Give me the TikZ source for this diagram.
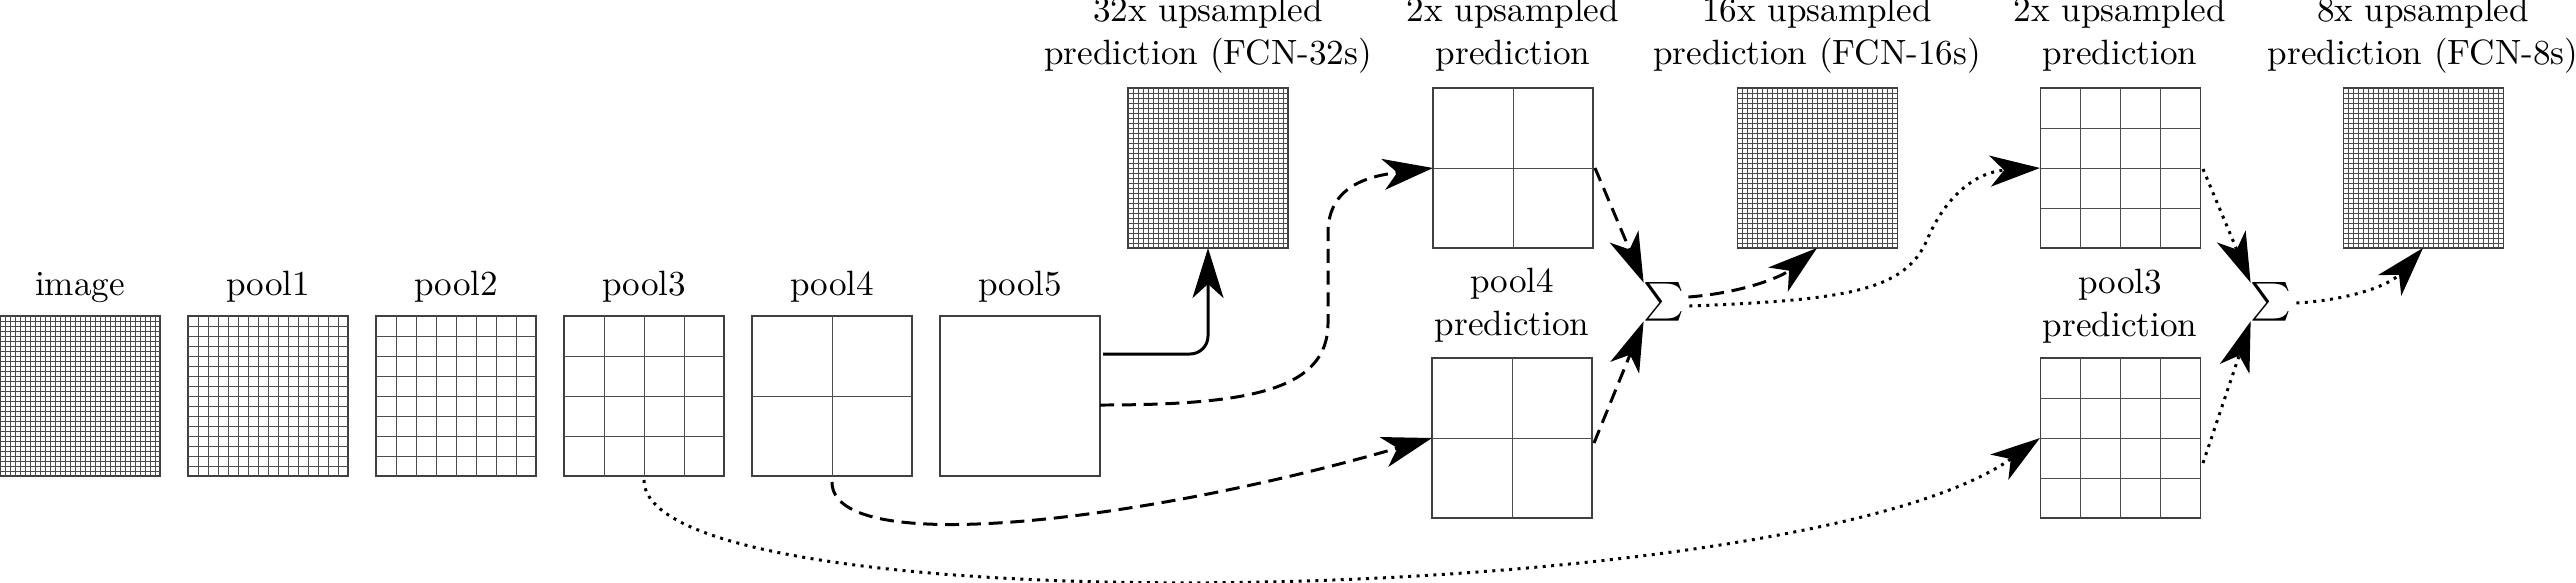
\documentclass[tikz,border=0pt]{standalone}
\usetikzlibrary{arrows.meta,calc}
\newcommand{\featgrid}[3]{%
  \begin{scope}[shift={(#1.north west)}]
  \foreach \k in {1,...,#3}{
    \draw[gridline] ({\k*160/#2},0) -- ({\k*160/#2},160);
    \draw[gridline] (0,{\k*160/#2}) -- (160,{\k*160/#2});
  }
  \end{scope}}
\begin{document}
\begin{tikzpicture}[x=0.1mm,y=-0.1mm,
  fmap/.style={draw=black!75,line width=0.3pt,minimum width=16mm,minimum height=16mm,inner sep=0pt,outer sep=0pt},
  gridline/.style={draw=black!70,line width=0.28pt},
  lbl/.style={anchor=base,inner sep=0pt,align=center},
  sumnode/.style={inner sep=0pt,outer sep=0pt,scale=1.1},
  conn/.style={line width=0.85pt,-{Stealth[length=5mm,width=3.1mm,inset=1.4mm]}},
  dashconn/.style={conn,dash pattern=on 4pt off 2.2pt},
  dotconn/.style={conn,dash pattern=on 0.85pt off 1.55pt}]
\useasboundingbox (0,0) rectangle (2576,582);

% middle row
\node[fmap] (img) at (80,396) {};
\node[fmap] (p1) at (268,396) {};
\node[fmap] (p2) at (456,396) {};
\node[fmap] (p3) at (644,396) {};
\node[fmap] (p4) at (832,396) {};
\node[fmap] (p5) at (1020,396) {};
\featgrid{img}{32}{31}
\featgrid{p1}{16}{15}
\featgrid{p2}{8}{7}
\featgrid{p3}{4}{3}
\featgrid{p4}{2}{1}

\node[lbl] (limg) at (80,295) {image};
\node[lbl] (lp1) at (268,295) {pool1};
\node[lbl] (lp2) at (456,295) {pool2};
\node[lbl] (lp3) at (644,295) {pool3};
\node[lbl] (lp4) at (832,295) {pool4};
\node[lbl] (lp5) at (1020,295) {pool5};

% top row
\node[fmap] (fcn32) at (1208,168) {};
\node[fmap] (up2a) at (1513,168) {};
\node[fmap] (fcn16) at (1817,168) {};
\node[fmap] (up2b) at (2120,168) {};
\node[fmap] (fcn8) at (2423,168) {};
\featgrid{fcn32}{32}{31}
\featgrid{up2a}{2}{1}
\featgrid{fcn16}{32}{31}
\featgrid{up2b}{4}{3}
\featgrid{fcn8}{32}{31}

\node[lbl] (lfcn32) at (1208,64) {32x upsampled\\prediction (FCN-32s)};
\node[lbl] (lup2a) at (1513,64) {2x upsampled\\prediction};
\node[lbl] (lfcn16) at (1817,64) {16x upsampled\\prediction (FCN-16s)};
\node[lbl] (lup2b) at (2120,64) {2x upsampled\\prediction};
\node[lbl] (lfcn8) at (2423,64) {8x upsampled\\prediction (FCN-8s)};

% bottom row
\node[fmap] (p4pred) at (1512,438) {};
\node[fmap] (p3pred) at (2120,438) {};
\featgrid{p4pred}{2}{1}
\featgrid{p3pred}{4}{3}
\node[lbl] (lp4pred) at (1512,335) {pool4\\prediction};
\node[lbl] (lp3pred) at (2120,336) {pool3\\prediction};

% sums
\node[sumnode] (s1) at (1664,302) {$\sum$};
\node[sumnode] (s2) at (2271,302) {$\sum$};

% connectors
\draw[conn,rounded corners=1.8mm] ($(p5.east)+(3,-42)$) -| (fcn32.south);
\draw[dashconn] ($(p5.east)+(0,9)$) .. controls (1250,405) and (1328,390) .. (1328,323)
  -- (1328,233) .. controls (1328,185) and (1370,176) .. (up2a.west);
\draw[dashconn] ($(p4.south)+(0,6)$) .. controls (832,560) and (1150,520) .. (p4pred.west);
\draw[dotconn] ($(p3.south)+(0,4)$) .. controls (644,630) and (1800,610) .. (p3pred.west);

\draw[dashconn] ($(up2a.east)+(2,0)$) -- (s1.north west);
\draw[dashconn] ($(p4pred.east)+(2,5)$) -- (s1.south west);
\draw[dashconn] ($(s1.east)+(4,-5)$) .. controls (1740,293) and (1780,278) .. (fcn16.south);
\draw[dotconn] ($(s1.east)+(5,4)$) .. controls (1850,300) and (1905,290) .. (1927,240)
  .. controls (1945,197) and (1975,172) .. (up2b.west);

\draw[dotconn] ($(up2b.east)+(3,1)$) -- (s2.north west);
\draw[dotconn] ($(p3pred.east)+(3,25)$) -- (s2.south west);
\draw[dotconn] ($(s2.east)+(5,1)$) .. controls (2350,300) and (2390,285) .. (fcn8.south);
\end{tikzpicture}
\end{document}
